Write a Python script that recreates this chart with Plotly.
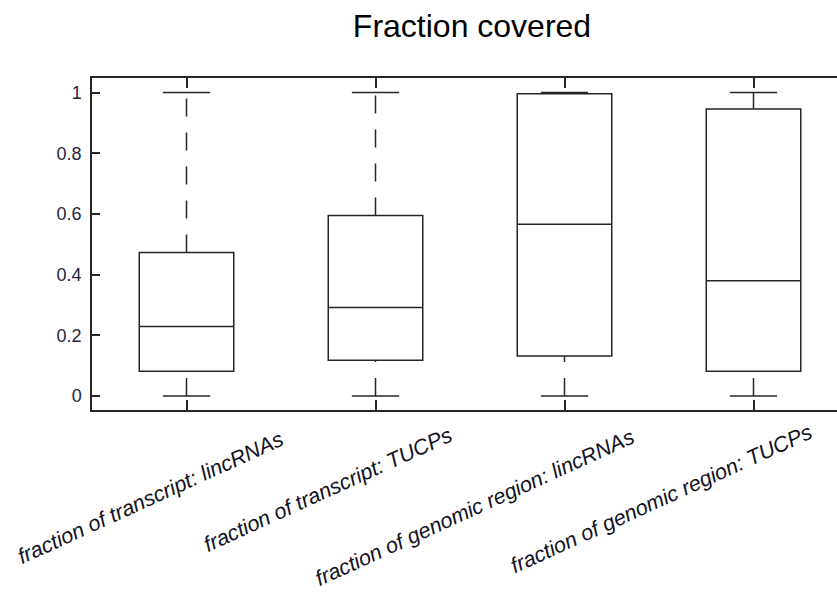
import plotly.graph_objects as go

# Box statistics per group
categories = [
    "fraction of transcript: lincRNAs",
    "fraction of transcript: TUCPs",
    "fraction of genomic region: lincRNAs",
    "fraction of genomic region: TUCPs",
]
positions = [1, 2, 3, 4]
q1 = [0.082, 0.118, 0.132, 0.082]
median = [0.229, 0.292, 0.566, 0.380]
q3 = [0.473, 0.595, 0.996, 0.946]
whisker_low = [0.0, 0.0, 0.0, 0.0]
whisker_high = [1.0, 1.0, 1.0, 1.0]
y_ticks = [0, 0.2, 0.4, 0.6, 0.8, 1.0]
y_tick_text = ["0", "0.2", "0.4", "0.6", "0.8", "1"]

# Styling
LINE = "#262626"
LW = 1.5
BOX_WIDTH = 0.5
CAP_HALF = 0.125
DASH = "18px,16px"
label_shift_x = [-36, -48, -90, -92]
label_shift_y = [-88, -80, -98, -89]

fig = go.Figure()

# Boxes (quartiles and median), whiskers drawn separately as dashed lines
fig.add_trace(go.Box(
    x=positions, q1=q1, median=median, q3=q3,
    lowerfence=q1, upperfence=q3,
    width=BOX_WIDTH, whiskerwidth=0,
    fillcolor="white", line=dict(color=LINE, width=LW),
    boxpoints=False, hoverinfo="skip", showlegend=False,
))

for p, lo, a, b, hi in zip(positions, whisker_low, q1, q3, whisker_high):
    # upper whisker: from box top to cap
    fig.add_trace(go.Scatter(
        x=[p, p], y=[b, hi], mode="lines",
        line=dict(color=LINE, width=LW, dash=DASH),
        hoverinfo="skip", showlegend=False,
    ))
    # lower whisker: from cap to box bottom
    fig.add_trace(go.Scatter(
        x=[p, p], y=[lo, a], mode="lines",
        line=dict(color=LINE, width=LW, dash=DASH),
        hoverinfo="skip", showlegend=False,
    ))

# Whisker caps
cap_x, cap_y = [], []
for p, lo, hi in zip(positions, whisker_low, whisker_high):
    cap_x += [p - CAP_HALF, p + CAP_HALF, None, p - CAP_HALF, p + CAP_HALF, None]
    cap_y += [lo, lo, None, hi, hi, None]
fig.add_trace(go.Scatter(
    x=cap_x, y=cap_y, mode="lines",
    line=dict(color=LINE, width=LW),
    hoverinfo="skip", showlegend=False,
))

# Rotated category labels
for p, name, dx, dy in zip(positions, categories, label_shift_x, label_shift_y):
    fig.add_annotation(
        x=p, y=0, xref="x", yref="paper",
        text=name, showarrow=False, textangle=-24.5,
        xanchor="center", yanchor="middle",
        xshift=dx, yshift=dy,
        font=dict(family="Liberation Sans, Arial, sans-serif", size=21.5,
                  color="#111122", style="italic"),
    )

fig.update_layout(
    width=837, height=592,
    margin=dict(l=92, r=0, t=78, b=182),
    paper_bgcolor="white", plot_bgcolor="white",
    title=dict(
        text="Fraction covered",
        x=472 / 837, xref="container", xanchor="center",
        y=1 - 26 / 592, yref="container", yanchor="middle",
        font=dict(family="Liberation Sans, Arial, sans-serif", size=32, color="black"),
    ),
    xaxis=dict(
        range=[0.5, 0.5 + 745 / 189],
        tickvals=positions, showticklabels=False,
        ticks="inside", ticklen=10, tickwidth=LW, tickcolor=LINE,
        showline=True, linecolor=LINE, linewidth=LW, mirror="ticks",
        showgrid=False, zeroline=False,
    ),
    yaxis=dict(
        range=[-0.046, 1.048],
        tickvals=y_ticks, ticktext=y_tick_text,
        ticks="inside", ticklen=8, tickwidth=LW, tickcolor=LINE,
        showline=True, linecolor=LINE, linewidth=LW, mirror=False,
        showgrid=False, zeroline=False,
        ticklabelstandoff=5,
        tickfont=dict(family="Liberation Sans Narrow, Arial Narrow, Liberation Sans, sans-serif",
                      size=18, color="#252540"),
    ),
)

fig.write_html("out.html")
